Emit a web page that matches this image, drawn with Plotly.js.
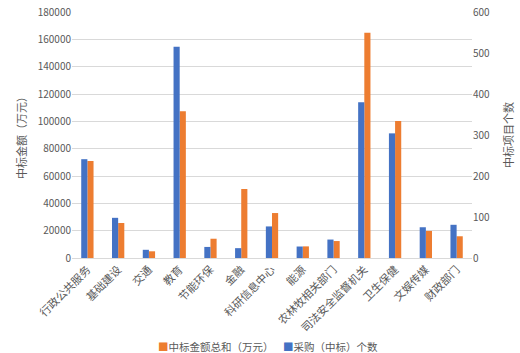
<!DOCTYPE html>
<html>
<head>
<meta charset="utf-8">
<script src="https://cdn.plot.ly/plotly-3.0.1.min.js"></script>
<style>html,body{margin:0;padding:0;background:#fff;}#chart{width:520px;height:353px;}</style>
</head>
<body>
<div id="chart"></div>
<script>
const categories = ["行政公共服务","基础建设","交通","教育","节能环保","金融","科研信息中心","能源","农林牧相关部门","司法安全监督机关","卫生保健","文娱传媒","财政部门"];
const amountName = "中标金额总和（万元）";
const countName = "采购（中标）个数";
const amountValues = [71000, 25600, 4900, 107300, 14100, 50500, 32900, 8500, 12400, 164900, 100200, 19800, 15900];
const countValues = [241, 98, 20, 515, 27, 24, 77, 28, 45, 380, 304, 75, 81];
const leftTicks = [0, 20000, 40000, 60000, 80000, 100000, 120000, 140000, 160000, 180000];
const rightTicks = [0, 100, 200, 300, 400, 500, 600];
const amountColor = "#ED7D31";
const countColor = "#4472C4";

const font = "'Noto Sans CJK SC', 'DejaVu Sans', sans-serif";
const grey = "#595959";

const traces = [
  {type: "bar", name: countName, x: categories, y: countValues, yaxis: "y2",
   offsetgroup: "a", marker: {color: countColor}},
  {type: "bar", name: amountName, x: categories, y: amountValues, yaxis: "y",
   offsetgroup: "b", marker: {color: amountColor}}
];

const layout = {
  width: 520, height: 353,
  margin: {l: 72, r: 48, t: 12, b: 95},
  paper_bgcolor: "#fff", plot_bgcolor: "#fff",
  barmode: "group", bargap: 0.6, bargroupgap: 0,
  font: {family: font, color: grey, size: 10},
  showlegend: false,
  xaxis: {tickangle: -45, tickfont: {size: 11, color: grey}, showline: true,
          linecolor: "#d9d9d9", ticks: "", automargin: false},
  yaxis: {range: [0, 180000], tickvals: leftTicks, ticktext: leftTicks.map(String),
          gridcolor: "#d9d9d9", zeroline: false, tickfont: {size: 10, color: grey},
          ticklen: 0, automargin: false,
          title: {text: "中标金额（万元）", font: {size: 11, color: grey}, standoff: 8}},
  yaxis2: {range: [0, 600], tickvals: rightTicks, overlaying: "y", side: "right",
           showgrid: false, zeroline: false, tickfont: {size: 10, color: grey}, automargin: false,
           title: {text: "中标项目个数", font: {size: 11, color: grey}, standoff: 16}},
  annotations: [
    {xref: "paper", yref: "paper", x: (156 - 72) / 400, y: (258 - 346) / 246,
     xanchor: "left", yanchor: "middle", showarrow: false,
     text: '<span style="color:' + amountColor + '">■</span>' + amountName,
     font: {size: 10.5, color: grey}},
    {xref: "paper", yref: "paper", x: (281 - 72) / 400, y: (258 - 346) / 246,
     xanchor: "left", yanchor: "middle", showarrow: false,
     text: '<span style="color:' + countColor + '">■</span>' + countName,
     font: {size: 10.5, color: grey}}
  ]
};

Plotly.newPlot("chart", traces, layout, {displayModeBar: false, staticPlot: true});
</script>
</body>
</html>
